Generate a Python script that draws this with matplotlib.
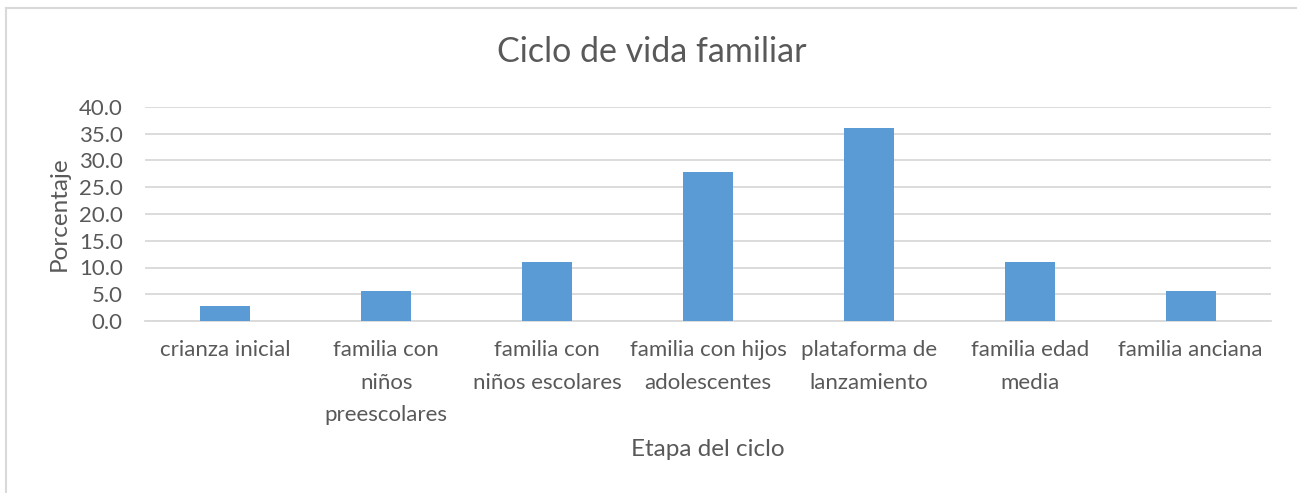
import matplotlib
matplotlib.use("Agg")
import matplotlib.pyplot as plt
from matplotlib.lines import Line2D

# data
etapas = [
    "crianza inicial",
    "familia con\nniños\npreescolares",
    "familia con\nniños escolares",
    "familia con hijos\nadolescentes",
    "plataforma de\nlanzamiento",
    "familia edad\nmedia",
    "familia anciana",
]
porcentaje = [2.8, 5.6, 11.1, 27.8, 36.1, 11.1, 5.6]
y_ticks = [0, 5, 10, 15, 20, 25, 30, 35, 40]

W, H = 1297, 493
BAR = "#5B9BD5"
GRID = "#D9D9D9"
TXT = "#595959"

plt.rcParams["font.family"] = ["Lato", "DejaVu Sans"]

fig = plt.figure(figsize=(W / 100, H / 100), dpi=100)
# chart frame: only top and left edges fall inside the picture
fig.lines.append(Line2D([5.5 / W, 1], [1 - 7.5 / H] * 2, transform=fig.transFigure,
                        color=GRID, linewidth=1.5))
fig.lines.append(Line2D([5.5 / W] * 2, [0, 1 - 7.5 / H], transform=fig.transFigure,
                        color=GRID, linewidth=1.5))

ax = fig.add_axes([145 / W, 1 - 321 / H, (1271 - 145) / W, (321 - 107) / H])
x = range(len(etapas))
ax.bar(x, porcentaje, width=0.31, color=BAR, zorder=3)
ax.set_xlim(-0.5, len(etapas) - 0.5)
ax.set_ylim(0, 40)
ax.set_yticks(y_ticks)
ax.set_yticklabels([f"{v:.1f}" for v in y_ticks])
ax.set_xticks(list(x))
ax.set_xticklabels(etapas, linespacing=1.77)
ax.grid(axis="y", color=GRID, linewidth=1.3, zorder=0)
for s in ["top", "right", "left"]:
    ax.spines[s].set_visible(False)
ax.spines["bottom"].set_color(GRID)
ax.spines["bottom"].set_linewidth(1.3)
ax.tick_params(axis="y", length=0, pad=16, labelsize=16, labelcolor=TXT)
ax.tick_params(axis="x", length=0, pad=14, labelsize=16, labelcolor=TXT)

fig.text(652 / W, 1 - 52 / H, "Ciclo de vida familiar", ha="center", va="center",
         fontsize=24.5, color=TXT)
fig.text(59 / W, 1 - 214 / H, "Porcentaje", ha="center", va="center",
         rotation=90, fontsize=17.5, color=TXT)
fig.text(708 / W, 1 - 450 / H, "Etapa del ciclo", ha="center", va="center",
         fontsize=17.5, color=TXT)

fig.savefig("out.png", dpi=100, facecolor="white")
